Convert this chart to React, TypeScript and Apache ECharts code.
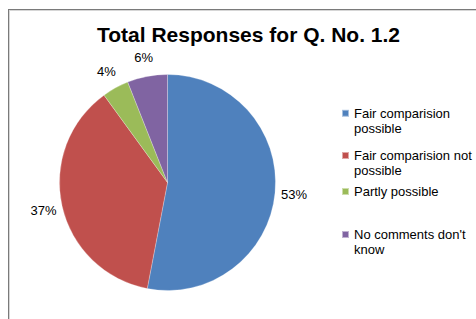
import React, { useEffect, useRef } from "react";
import * as echarts from "echarts";

const categories = [
  "Fair comparision possible",
  "Fair comparision not possible",
  "Partly possible",
  "No comments don't know",
];
const legendLabels = [
  "Fair comparision\npossible",
  "Fair comparision not\npossible",
  "Partly possible",
  "No comments don't\nknow",
];
const values = [53, 37, 4, 6];
const colors = ["#4F81BD", "#C0504D", "#9BBB59", "#8064A2"];
const titleText = "Total Responses for Q. No. 1.2";

const FONT = "'Liberation Sans', Arial, sans-serif";

export default function App() {
  const ref = useRef<HTMLDivElement>(null);
  useEffect(() => {
    if (!ref.current) return;
    const chart = echarts.init(ref.current, undefined, { renderer: "svg" });
    const cx = 167.5;
    const cy = 182.5;
    const r = 108;
    const legendCenters = [113.3, 155.5, 191.5, 234.5];
    const legends = categories.map((name, i) => {
      const twoLine = legendLabels[i].includes("\n");
      return {
        show: true,
        orient: "vertical",
        left: 341,
        top: twoLine ? legendCenters[i] - 22.5 : legendCenters[i] - 7.5,
        padding: 0,
        itemWidth: 7,
        itemHeight: 7,
        icon: "rect",
        selectedMode: false,
        textStyle: {
          fontFamily: FONT,
          fontSize: 13,
          lineHeight: 15,
          color: "#000",
        },
        data: [name],
        formatter: () => (twoLine ? "\n" + legendLabels[i] : legendLabels[i]),
      };
    });
    const data = categories.map((name, i) => ({
      name,
      value: values[i],
      itemStyle: { color: colors[i] },
    }));
    chart.setOption({
      animation: false,
      title: {
        text: titleText,
        left: "center",
        top: 24,
        padding: 0,
        textStyle: {
          fontFamily: FONT,
          fontSize: 21,
          fontWeight: "bold",
          color: "#000",
        },
      },
      legend: legends,
      series: [
        {
          type: "pie",
          center: [cx, cy],
          radius: [0, r],
          startAngle: 90,
          clockwise: true,
          silent: true,
          label: { show: false },
          labelLine: { show: false },
          itemStyle: { borderColor: "rgba(255,255,255,0.5)", borderWidth: 0.5 },
          emphasis: { disabled: true },
          data,
        },
        {
          type: "pie",
          center: [cx, cy],
          radius: [r + 4, r + 28],
          startAngle: 90,
          clockwise: true,
          silent: true,
          itemStyle: { color: "rgba(0,0,0,0)" },
          emphasis: { disabled: true },
          labelLine: { show: false },
          label: {
            show: true,
            position: "inside",
            fontFamily: FONT,
            fontSize: 13,
            color: "#000",
            formatter: (p: any) => `${Math.round(p.percent)}%`,
          },
          data: categories.map((name, i) => ({ name, value: values[i] })),
        },
      ],
    });
    return () => chart.dispose();
  }, []);
  return (
    <div
      style={{
        position: "fixed",
        left: 0,
        top: 0,
        width: 476,
        height: 319,
        overflow: "hidden",
        background: "#fff",
      }}
    >
      <div
        style={{
          position: "absolute",
          left: 8,
          top: 9,
          width: 600,
          height: 400,
          border: "1px solid #7a7a7a",
          boxShadow: "inset 1px 1px 0 #d6d6d6",
        }}
      />
      <div
        ref={ref}
        style={{ position: "absolute", left: 0, top: 0, width: 497, height: 319 }}
      />
    </div>
  );
}
